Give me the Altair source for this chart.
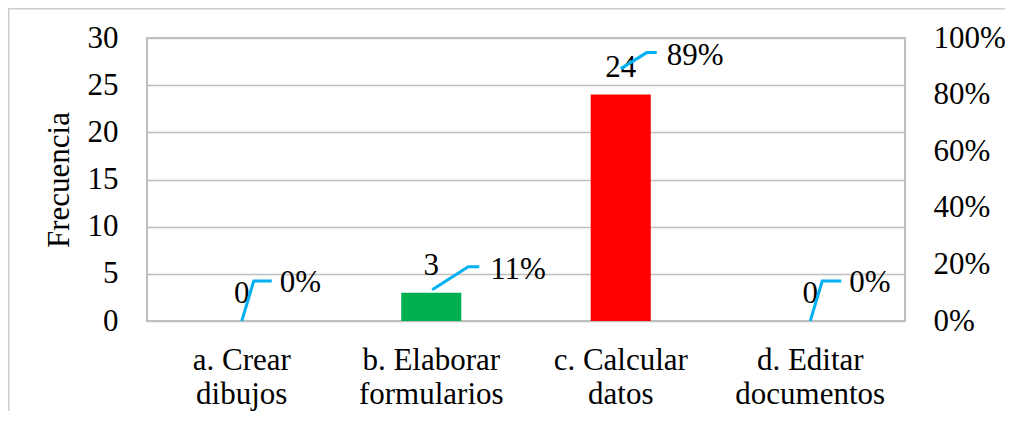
import altair as alt
import pandas as pd

# ---- data ----
categories = ["a. Crear dibujos", "b. Elaborar formularios", "c. Calcular datos", "d. Editar documentos"]
counts = [0, 3, 24, 0]
percents = [0.0, 0.11, 0.89, 0.0]
bar_colors = ["#4472C4", "#00B050", "#FF0000", "#4472C4"]

# ---- layout / style ----
W, H = 758, 283
PAD = {"left": 139, "top": 30, "right": 100, "bottom": 90}
YMAX = 30
STEP = W / len(categories)      # px per category
YPX = H / YMAX                  # px per count unit
FONT = "Liberation Serif"
FS = 31
LEADER_COLOR = "#00B0F0"
GRID = "#BFBFBF"
FRAME = "#CCCCCC"
# leader line points (px right, px up) relative to category centre / bar top
LEADER = [((0, 0), (12, 40), (30, 40)),
          ((1, 3), (37, 26), (48, 26)),
          ((0, 26), (26, 42), (36, 42)),
          ((0, 0), (12, 40), (31, 40))]
# percent label anchor (px right, px up) relative to category centre / bar top
PCT_POS = [(38, 29), (59, 14), (46, 30), (39, 29)]

df = pd.DataFrame({"cat": categories, "count": counts, "pct": percents, "color": bar_colors})

lead_rows = []
for i, (c, v) in enumerate(zip(categories, counts)):
    for k, (px, py) in enumerate(LEADER[i]):
        lead_rows.append({"cat": c, "order": k, "xq": i + px / STEP, "yq": v + py / YPX})
lead_df = pd.DataFrame(lead_rows)

pct_df = pd.DataFrame({
    "cat": categories,
    "pct": percents,
    "xq": [i + PCT_POS[i][0] / STEP for i in range(len(categories))],
    "yq": [counts[i] + PCT_POS[i][1] / YPX for i in range(len(categories))],
})

xband = alt.X("cat:N", sort=categories,
              scale=alt.Scale(paddingInner=0.683, paddingOuter=0.3415),
              axis=alt.Axis(title=None, labelAngle=0, ticks=False, domain=False,
                            labelFont=FONT, labelFontSize=FS, labelColor="black",
                            labelPadding=24, labelLineHeight=34, labelLimit=400,
                            labelExpr="[substring(datum.label,0,lastindexof(datum.label,' ')), substring(datum.label,lastindexof(datum.label,' ')+1)]"))
ycount = alt.Y("count:Q", scale=alt.Scale(domain=[0, YMAX], nice=False),
               axis=alt.Axis(title="Frecuencia", values=list(range(0, 31, 5)), ticks=False, domain=False,
                             grid=True, gridColor=GRID, gridWidth=1.5,
                             labelFont=FONT, labelFontSize=FS, labelColor="black", labelPadding=29,
                             titleFont=FONT, titleFontSize=FS, titleFontWeight="normal",
                             titleColor="black", titlePadding=12))

bars = alt.Chart(df).mark_bar().encode(
    x=xband, y=ycount, color=alt.Color("color:N", scale=None))
count_text = alt.Chart(df).mark_text(font=FONT, fontSize=FS, baseline="alphabetic",
                                     align="center", dy=-18, color="black").encode(
    x=alt.X("cat:N", sort=categories), y="count:Q", text="count:Q")
L1 = alt.layer(bars, count_text)

xq = alt.X("xq:Q", scale=alt.Scale(domain=[-0.5, len(categories) - 0.5], nice=False, zero=False), axis=None)
yq = alt.Y("yq:Q", scale=alt.Scale(domain=[0, YMAX], nice=False), axis=None)
leaders = alt.Chart(lead_df).mark_line(color=LEADER_COLOR, strokeWidth=3, clip=False).encode(
    x=xq, y=yq, detail="cat:N", order="order:Q")
pct_text = alt.Chart(pct_df).mark_text(font=FONT, fontSize=FS, baseline="alphabetic",
                                       align="left", color="black").encode(
    x=xq, y=yq, text=alt.Text("pct:Q", format=".0%"))
L2 = alt.layer(leaders, pct_text)

right_axis = alt.Chart(df).mark_point(opacity=0).encode(
    x=alt.X("cat:N", sort=categories, axis=None),
    y=alt.Y("pct:Q", scale=alt.Scale(domain=[0, 1], nice=False),
            axis=alt.Axis(orient="right", title=None, format=".0%", values=[0, 0.2, 0.4, 0.6, 0.8, 1.0],
                          ticks=False, domain=False, grid=False,
                          labelFont=FONT, labelFontSize=FS, labelColor="black", labelPadding=28)))

# outer chart frame (decoration)
frame_src = pd.DataFrame({"k": [0]})
frame_left = alt.Chart(frame_src).mark_rule(color=FRAME, strokeWidth=1.5, clip=False).encode(
    x=alt.value(-PAD["left"] + 0.75), y=alt.value(-PAD["top"]), y2=alt.value(H + PAD["bottom"]))
frame_top = alt.Chart(frame_src).mark_rule(color=FRAME, strokeWidth=1.5, clip=False).encode(
    x=alt.value(-PAD["left"]), x2=alt.value(W + PAD["right"]), y=alt.value(-PAD["top"] + 0.75))

chart = alt.layer(L1, L2, right_axis, frame_left, frame_top).resolve_scale(
    x="independent", y="independent").properties(
    width=W, height=H,
    autosize=alt.AutoSizeParams(type="none"),
    padding=PAD,
    background="white",
).configure_view(stroke=GRID, strokeWidth=2)

chart.save("out.html", embed_options={"renderer": "svg", "actions": False})
